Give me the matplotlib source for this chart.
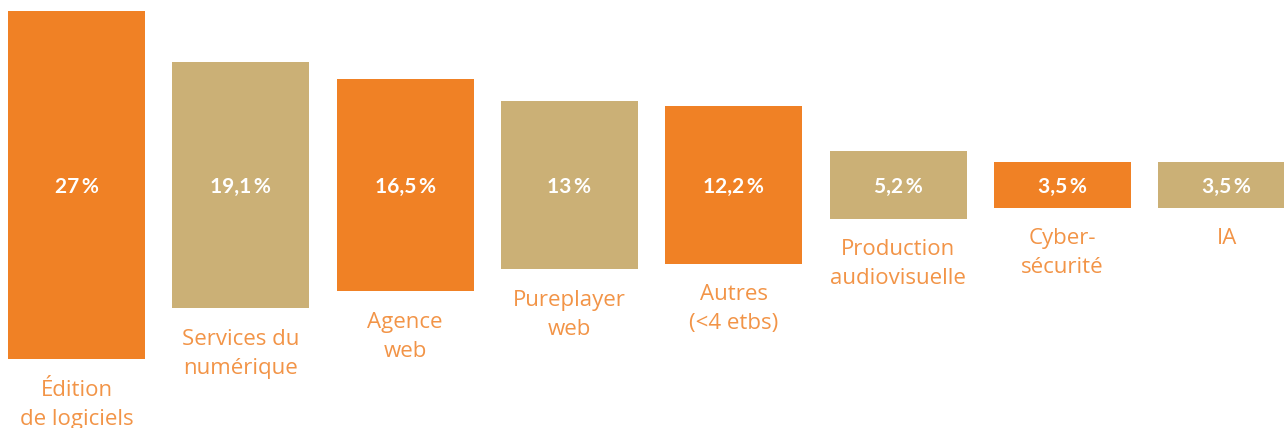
import numpy as np
import matplotlib.pyplot as plt

categories = ["Édition\nde logiciels", "Services du\nnumérique", "Agence\nweb",
              "Pureplayer\nweb", "Autres\n(<4 etbs)", "Production\naudiovisuelle",
              "Cyber-\nsécurité", "IA"]
values = [27, 19.1, 16.5, 13, 12.2, 5.2, 3.5, 3.5]
value_labels = ["27\u2009%", "19,1\u2009%", "16,5\u2009%", "13\u2009%", "12,2\u2009%",
                "5,2\u2009%", "3,5\u2009%", "3,5\u2009%"]

orange = "#F08125"
tan = "#CBB076"
label_color = "#F29447"

fig = plt.figure(figsize=(12.84, 4.28), dpi=100)
ax = fig.add_axes([0, 0, 1, 1])

x = np.arange(len(values))
vals = np.array(values)
colors = [orange if i % 2 == 0 else tan for i in range(len(values))]

# floating bars centred on a common line
ax.bar(x, vals, bottom=-vals / 2, width=0.834, color=colors)

for i, v in enumerate(values):
    ax.annotate(value_labels[i], (x[i], 0), xytext=(0, -1.5),
                textcoords="offset points", color="white", ha="center", va="center",
                fontsize=15, fontweight="bold", family=["Lato", "DejaVu Sans"])
    ax.annotate(categories[i], (x[i], -v / 2), xytext=(0, -15),
                textcoords="offset points", ha="center", va="top",
                color=label_color, fontsize=16, fontweight="normal",
                family=["Open Sans", "DejaVu Sans"], linespacing=1.5)

ax.set_xlim(-0.4656, 7.349)
ax.set_ylim(-18.84, 14.34)
ax.axis("off")

fig.savefig("out.png", dpi=100)
